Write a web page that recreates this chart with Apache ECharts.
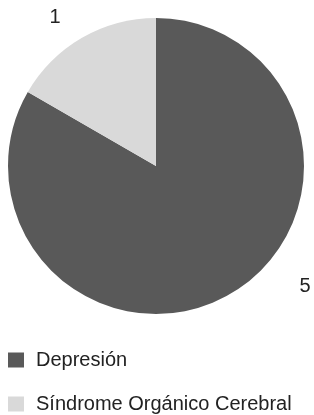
<!DOCTYPE html>
<html>
<head>
<meta charset="utf-8">
<script src="https://cdn.jsdelivr.net/npm/echarts@6/dist/echarts.min.js"></script>
<style>
  html, body { margin: 0; padding: 0; background: #fff; }
  #pie-container { width: 314px; height: 415px; }
</style>
</head>
<body>
<div id="pie-container"></div>
<script>
// categories and values
const categories = ["Depresión", "Síndrome Orgánico Cerebral"];
const counts = [5, 1];
const colors = ["#595959", "#d9d9d9"];

// where the value labels sit (Excel-style best fit)
const labelSpots = [[305, 286], [55, 17]];
// one legend row per category, stacked
const legendTops = [350, 394];

const chart = echarts.init(document.getElementById("pie-container"));

chart.setOption({
  animation: false,
  legend: categories.map((name, i) => ({
    left: 8,
    top: legendTops[i],
    padding: 0,
    itemWidth: 16,
    itemHeight: 15,
    icon: "rect",
    selectedMode: false,
    textStyle: {
      fontFamily: "Liberation Sans",
      fontSize: 20,
      lineHeight: 20,
      color: "#222",
      padding: [0, 0, 0, 7],
    },
    data: [name],
  })),
  series: [
    {
      type: "pie",
      center: [156, 166],
      radius: 148,
      startAngle: 90,
      clockwise: true,
      label: {
        show: true,
        position: "outside",
        formatter: "{c}",
        fontFamily: "Liberation Sans",
        fontSize: 20,
        color: "#222",
      },
      labelLine: { show: false },
      labelLayout: function (params) {
        const p = labelSpots[params.dataIndex];
        return { x: p[0], y: p[1], align: "center", verticalAlign: "middle" };
      },
      emphasis: { disabled: true },
      data: categories.map((name, i) => ({
        name: name,
        value: counts[i],
        itemStyle: { color: colors[i] },
      })),
    },
  ],
});
</script>
</body>
</html>
